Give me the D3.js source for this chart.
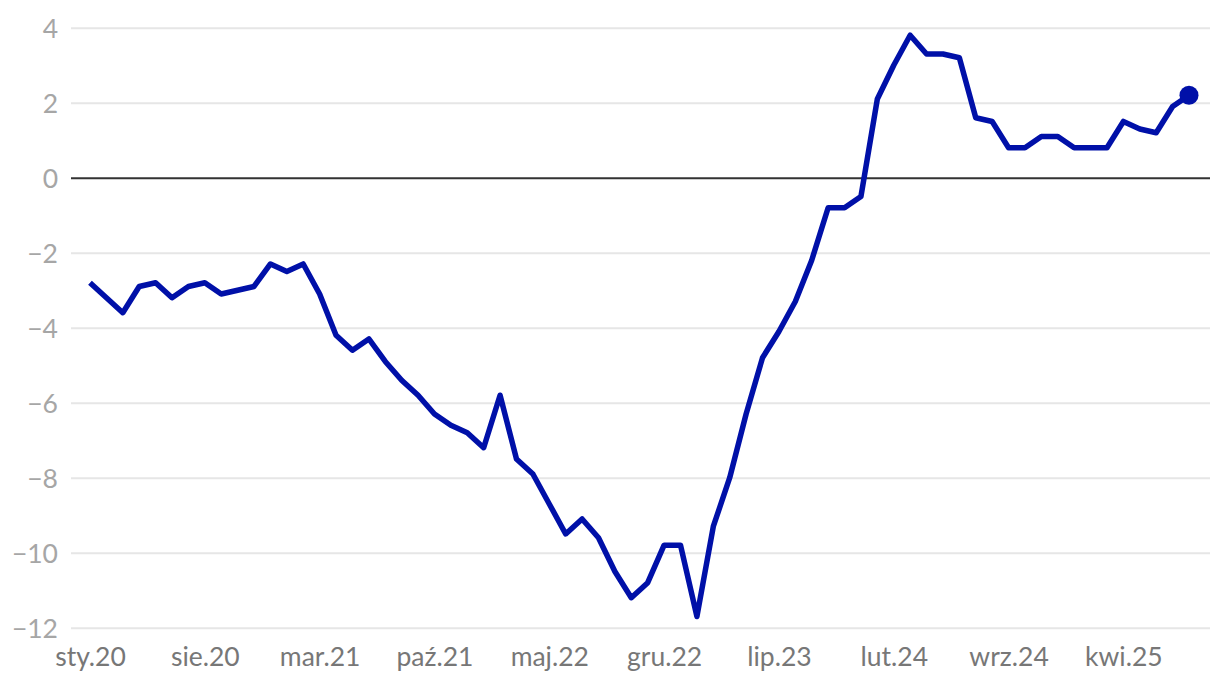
<!DOCTYPE html>
<html>
<head>
<meta charset="utf-8">
<script src="https://cdn.jsdelivr.net/npm/d3@7"></script>
<style>
  html, body { margin: 0; padding: 0; background: #fff; }
  svg { display: block; font-family: Lato, "Open Sans", sans-serif; }
</style>
</head>
<body>
<svg id="chart" width="1220" height="684"></svg>
<script>
// Monthly values, Jan 2020 – Aug 2025
const startYear = 2020;
const startMonth = 0;
const values = [
  -2.8, -3.2, -3.6, -2.9, -2.8, -3.2, -2.9, -2.8, -3.1, -3.0, -2.9, -2.3,
  -2.5, -2.3, -3.1, -4.2, -4.6, -4.3, -4.9, -5.4, -5.8, -6.3, -6.6, -6.8,
  -7.2, -5.8, -7.5, -7.9, -8.7, -9.5, -9.1, -9.6, -10.5, -11.2, -10.8, -9.8,
  -9.8, -11.7, -9.3, -8.0, -6.3, -4.8, -4.1, -3.3, -2.2, -0.8, -0.8, -0.5,
  2.1, 3.0, 3.8, 3.3, 3.3, 3.2, 1.6, 1.5, 0.8, 0.8, 1.1, 1.1,
  0.8, 0.8, 0.8, 1.5, 1.3, 1.2, 1.9, 2.2
];
const monthNames = ["sty","lut","mar","kwi","maj","cze","lip","sie","wrz","paź","lis","gru"];
const xTickIndex = [0, 7, 14, 21, 28, 35, 42, 49, 56, 63];
const yTicks = [4, 2, 0, -2, -4, -6, -8, -10, -12];

const data = values.map((v, i) => {
  const m = startMonth + i;
  return { i, v, label: monthNames[m % 12] + "." + String((startYear + Math.floor(m / 12)) % 100).padStart(2, "0") };
});

const gridLeft = 71, gridRight = 1210;
const svg = d3.select("#chart");

const x = d3.scaleLinear().domain([0, values.length - 1]).range([90, 1189]);
const y = d3.scaleLinear().domain([-12, 4]).range([627.7, 27.7]);

// grid + y labels
const yAxis = d3.axisLeft(y).tickValues(yTicks)
  .tickSize(-(gridRight - gridLeft))
  .tickFormat(d => d < 0 ? "\u2212" + Math.abs(d) : String(d));
const gy = svg.append("g").attr("transform", `translate(${gridLeft},0)`).call(yAxis);
gy.select(".domain").remove();
gy.selectAll(".tick line")
  .attr("stroke", d => d === 0 ? "#333" : "#e6e6e6")
  .attr("stroke-width", 2);
gy.selectAll(".tick text")
  .attr("x", -13)
  .attr("dy", "0.38em")
  .attr("fill", "#a6a6a6")
  .style("font-size", "26.5px")
  .style("font-family", "Lato");
gy.selectAll(".tick").filter(d => d === 0).raise();

// x axis labels
const xAxis = d3.axisBottom(x).tickValues(xTickIndex)
  .tickSize(0)
  .tickFormat(i => data[i].label);
const gx = svg.append("g").attr("transform", `translate(0,666)`).call(xAxis);
gx.select(".domain").remove();
gx.selectAll(".tick text")
  .attr("y", 0)
  .attr("dy", 0)
  .attr("fill", "#777")
  .style("font-size", "26.5px")
  .style("font-family", "Lato");

// line
const line = d3.line().x(d => x(d.i)).y(d => y(d.v)).curve(d3.curveLinear);
svg.append("path")
  .datum(data)
  .attr("fill", "none")
  .attr("stroke", "#0010a8")
  .attr("stroke-width", 5.5)
  .attr("stroke-linejoin", "round")
  .attr("d", line);

// last point marker
const last = data[data.length - 1];
svg.append("circle")
  .attr("cx", x(last.i))
  .attr("cy", y(last.v))
  .attr("r", 9.5)
  .attr("fill", "#0010a8");
</script>
</body>
</html>
